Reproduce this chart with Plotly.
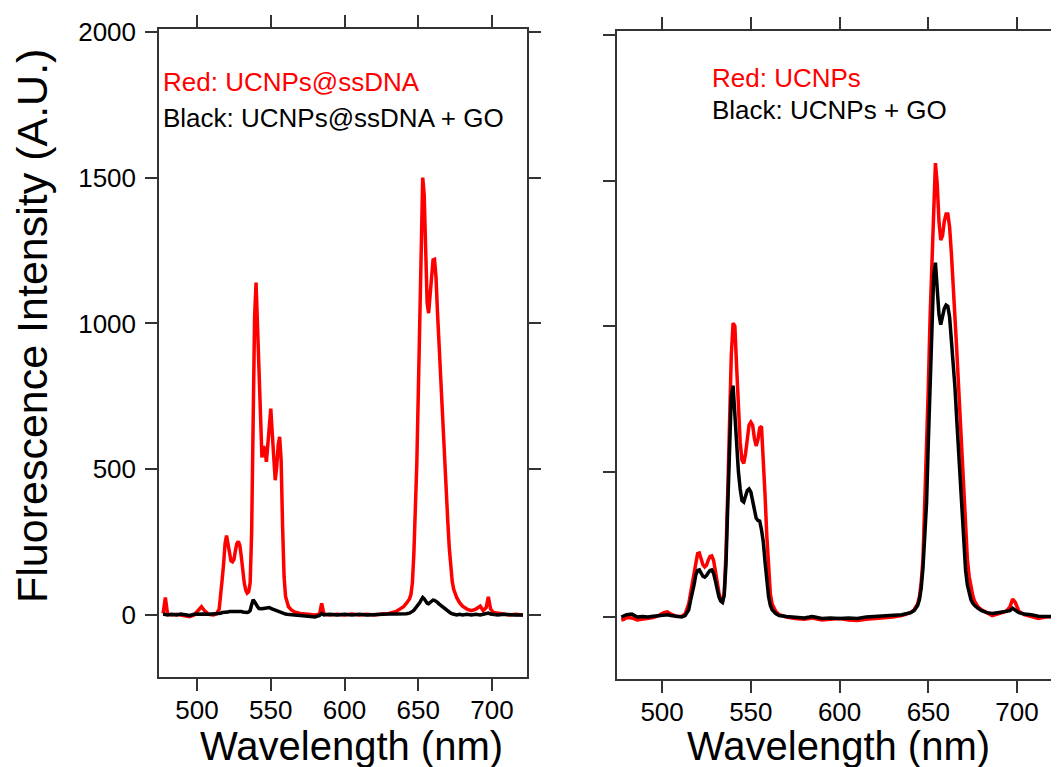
import plotly.graph_objects as go

# Wavelength grid (nm)
wavelength_nm = [
    477, 478.5, 480, 483, 486, 489, 492, 495, 498, 501, 503, 505, 508, 511, 513, 515,
    516, 517, 518, 519, 520, 521, 522, 523, 524, 525, 526, 527, 528, 529, 530, 531,
    532, 533, 534, 535, 536, 537, 538, 539, 540, 541, 542, 543, 544, 545, 546, 547,
    548, 549, 550, 551, 552, 553, 554, 555, 556, 557, 558, 559, 560, 561, 562,
    564, 566, 570, 575, 580, 583, 584.5, 586, 590, 595, 600, 605, 610, 615, 620, 625,
    630, 635, 638, 640, 642, 644,
    645, 646, 647, 648, 649, 650, 651, 652, 653, 654, 655, 656, 657, 658, 659, 660,
    661, 662, 663, 664, 665, 666, 667, 668, 669, 670, 671, 672, 673, 674, 675, 676,
    678, 680, 683, 686, 689, 692, 694, 696, 697.5, 699, 701, 704, 708, 712, 716, 721,
]

# Left panel: UCNPs@ssDNA (red) and UCNPs@ssDNA + GO (black)
ssdna_red = [
    5, 60, 3, 0, 2, 0, -3, -6, 0, 15, 28, 15, 2, 0, 3, 20,
    60, 120, 175, 245, 272, 240, 200, 185, 182, 190, 220, 245, 252, 238, 200, 150,
    110, 85, 75, 80, 110, 280, 680, 1020, 1140, 990, 760, 610, 540, 578, 570, 525,
    576, 657, 708, 622, 531, 462, 508, 582, 611, 531, 302, 131, 63, 40, 28,
    17, 10, 5, 3, 0, 2, 40, 3, 0, 2, 0, 3, 0, 2, 0, 3,
    5, 12, 20, 28, 40, 55,
    70, 110, 210, 330, 520, 760, 1000, 1280, 1500, 1440, 1250, 1070, 1035, 1100, 1185, 1218,
    1220, 1160, 1040, 930, 850, 740, 640, 540, 430, 320, 230, 160, 115, 88, 73, 60,
    42, 30, 20, 15, 20, 30, 15, 25, 62, 20, 8, 5, 3, 0, 2, 0,
]
ssdna_go_black = [
    3, 2, 0, 2, 0, 3, 0, -2, 2, 3, 5, 3, 2, 3, 5, 5,
    6, 8, 8, 10, 10, 10, 12, 12, 12, 12, 13, 14, 14, 13, 12, 10,
    9, 8, 8, 10, 15, 35, 52, 45, 35, 28, 22, 20, 21, 22, 23, 24,
    25, 25, 22, 20, 18, 14, 12, 10, 8, 6, 5, 4, 3, 2, 2,
    0, 0, -2, -3, -7, -2, 5, 0, 2, 0, 2, 0, 2, 0, 2, 3,
    3, 3, 3, 3, 4, 6,
    8, 12, 16, 22, 28, 34, 42, 52, 60, 55, 45, 40, 38, 42, 48, 51,
    50, 48, 43, 38, 34, 30, 25, 20, 16, 12, 9, 6, 4, 2, 1, 0,
    2, 0, 2, 0, 2, 0, 2, 3, 6, 3, 2, 0, 2, 0, 0, 0,
]

# Right panel: UCNPs (red) and UCNPs + GO (black)
ucnp_red = [
    -10, -8, -2, -3, -10, -8, -3, -2, 5, 15, 18, 10, 2, 3, 10, 45,
    80, 115, 150, 195, 218, 220, 200, 180, 172, 178, 195, 208, 210, 195, 160, 120,
    85, 60, 50, 80, 220, 430, 680, 900, 1010, 1000, 860, 700, 600, 540, 528, 560,
    620, 660, 670, 660, 615, 588, 610, 650, 655, 560, 420, 280, 160, 80, 45,
    20, 8, 0, -5, -8, -5, -3, -5, -10, -8, -5, -10, -12, -8, -5, -5,
    0, 5, 10, 15, 25, 45,
    70, 120, 200, 370, 555, 790, 1032, 1230, 1430, 1560, 1490, 1360, 1295, 1310, 1360, 1385,
    1385, 1340, 1250, 1155, 1040, 920, 800, 670, 545, 420, 300, 200, 140, 100, 75, 55,
    35, 25, 15, 5, 10, 15, 20, 35, 62, 50, 20, 8, 0, -5, 0, 2,
]
ucnp_go_black = [
    0, 5, 8, 10, 0, 2, 0, 3, 5, 5, 8, 5, 2, 0, 5, 25,
    55, 80, 110, 145, 160, 162, 150, 140, 137, 142, 152, 160, 162, 150, 125, 95,
    70, 55, 50, 75, 180, 380, 600, 760, 795, 680, 560, 500, 440, 400, 395, 415,
    435, 440, 430, 400, 365, 340, 332, 330, 300, 260, 190, 120, 70, 40, 25,
    12, 5, 2, 0, -3, 0, 2, 0, -5, -3, -5, -3, -5, 0, 2, 5,
    5, 8, 12, 15, 22, 40,
    60, 100, 170, 270, 390, 600, 800, 1000, 1170, 1218, 1130, 1040, 1005, 1030, 1060, 1072,
    1068, 1030, 960, 890, 790, 680, 570, 450, 340, 240, 160, 110, 80, 60, 48, 40,
    30, 22, 15, 12, 15, 18, 18, 22, 30, 25, 15, 10, 8, 3, 2, 1,
]

x_ticks = [500, 550, 600, 650, 700]
y_ticks = [0, 500, 1000, 1500, 2000]

for arr in (ssdna_red, ssdna_go_black, ucnp_red, ucnp_go_black):
    assert len(arr) == len(wavelength_nm), len(arr)

W, H = 1059, 767
OFF = 8  # page body margin offset
FONT = "Liberation Sans, Arial, sans-serif"
AX = "#333333"
LW = 3.5


def px(v):
    return (v - OFF) / W


def py(v):
    return 1 - (v - OFF) / H


fig = go.Figure()
fig.add_trace(go.Scatter(x=wavelength_nm, y=ssdna_red, mode="lines",
                         line=dict(color="#ff0000", width=LW), xaxis="x", yaxis="y"))
fig.add_trace(go.Scatter(x=wavelength_nm, y=ssdna_go_black, mode="lines",
                         line=dict(color="#000000", width=LW), xaxis="x", yaxis="y"))
fig.add_trace(go.Scatter(x=wavelength_nm, y=ucnp_red, mode="lines",
                         line=dict(color="#ff0000", width=LW), xaxis="x2", yaxis="y2"))
fig.add_trace(go.Scatter(x=wavelength_nm, y=ucnp_go_black, mode="lines",
                         line=dict(color="#000000", width=LW), xaxis="x2", yaxis="y2"))

common = dict(showgrid=False, zeroline=False, showline=True, linecolor=AX, linewidth=1.5,
              mirror="ticks", ticks="outside", ticklen=12, tickwidth=1.5, tickcolor=AX,
              automargin=False,
              tickfont=dict(family=FONT, size=26, color="#000000"))

fig.update_layout(
    width=W, height=H,
    margin=dict(l=0, r=0, t=0, b=0, autoexpand=False),
    paper_bgcolor="white", plot_bgcolor="white",
    showlegend=False,
    xaxis=dict(domain=[px(159), px(527)], range=[474.2, 723.7], tickvals=x_ticks,
               anchor="y", ticklabelstandoff=-3, **common),
    yaxis=dict(domain=[py(677), py(29)], range=[-213, 2010], tickvals=y_ticks,
               anchor="x", ticklabelstandoff=4, **common),
    xaxis2=dict(domain=[px(617), px(1057)], range=[474.6, 722.5], tickvals=x_ticks,
                anchor="y2", ticklabelstandoff=-3, **common),
    yaxis2=dict(domain=[py(679), py(31)], range=[-213, 2014], tickvals=y_ticks,
                anchor="x2", showticklabels=False,
                **{k: v for k, v in common.items() if k != "tickfont"}),
)


def ann(text, x, y, size, color="#000000", xanchor="left", yanchor="middle", angle=0):
    fig.add_annotation(text=text, x=px(x), y=py(y), xref="paper", yref="paper",
                       xanchor=xanchor, yanchor=yanchor, showarrow=False, textangle=angle,
                       font=dict(family=FONT, size=size, color=color))


ann("Red: UCNPs@ssDNA", 161, 82, 26, "#ff0000")
ann("Black: UCNPs@ssDNA + GO", 161, 118, 26)
ann("Red: UCNPs", 710, 78, 26, "#ff0000")
ann("Black: UCNPs + GO", 710, 110, 26)
ann("Wavelength (nm)", 351, 770, 40, xanchor="center", yanchor="bottom")
ann("Wavelength (nm)", 838, 770, 40, xanchor="center", yanchor="bottom")
ann("Fluorescence Intensity (A.U.)", 32, 326, 43, xanchor="center", angle=-90)

fig.write_html("out.html")
